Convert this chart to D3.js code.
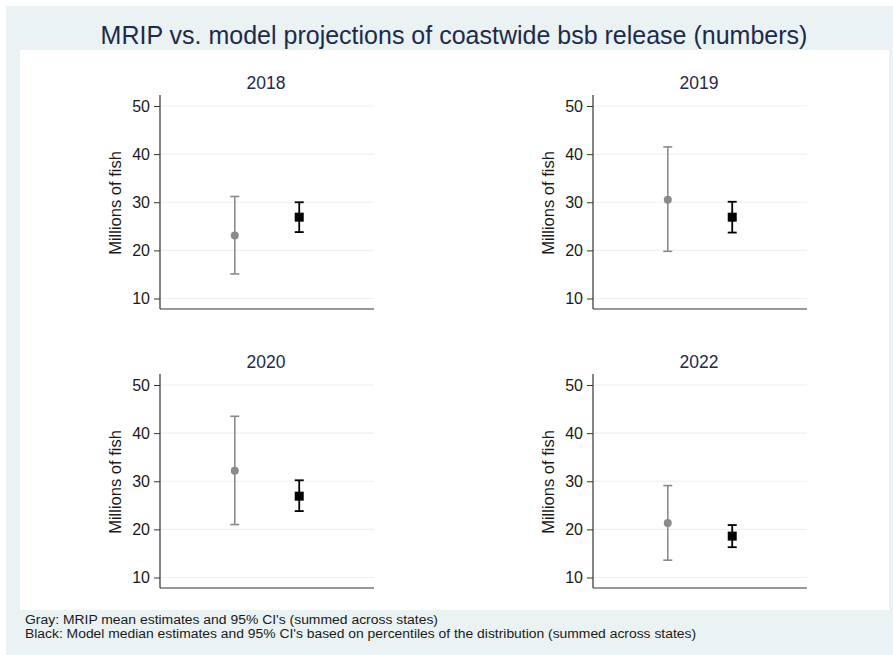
<!DOCTYPE html>
<html>
<head>
<meta charset="utf-8">
<script src="https://cdn.jsdelivr.net/npm/d3@7"></script>
<style>
  html, body { margin: 0; padding: 0; background: #ffffff; }
  svg { display: block; font-family: "Liberation Sans", Arial, sans-serif; }
</style>
</head>
<body>
<svg id="chart" width="893" height="655"></svg>
<script>
// Panel years
const years = ["2018", "2019", "2020", "2022"];
// MRIP mean estimates and 95% CI (millions of fish)
const mripMean  = [23.1, 30.5, 32.2, 21.3];
const mripLow   = [15.1, 19.8, 21.0, 13.6];
const mripHigh  = [31.2, 41.5, 43.5, 29.1];
// Model median estimates and 95% CI from percentiles
const modelMed  = [26.9, 26.9, 26.9, 18.6];
const modelLow  = [23.8, 23.7, 23.8, 16.3];
const modelHigh = [30.0, 30.1, 30.2, 20.9];
// Y axis ticks
const yTicks = [10, 20, 30, 40, 50];
const sources = ["MRIP", "Model"];

const svg = d3.select("#chart");
const W = 893, H = 655;
const bgCol = "#eaf2f3";
const textCol = "#1a1a1a";
const titleCol = "#1e2a4a";

// Outer graph region and inner plot region
svg.append("rect").attr("x", 6).attr("y", 6).attr("width", W - 6).attr("height", H - 6).attr("fill", bgCol);
svg.append("rect").attr("x", 20).attr("y", 50).attr("width", 869).attr("height", 560).attr("fill", "#ffffff");

svg.append("text")
  .attr("x", 454).attr("y", 44)
  .attr("text-anchor", "middle")
  .attr("font-size", 25)
  .attr("fill", titleCol)
  .text("MRIP vs. model projections of coastwide bsb release (numbers)");

// Panel frames: left edge of plot area (y axis), top of plot area
const colX = [160, 593];
const rowY = [95, 374];
const pw = 214, ph = 214;

years.forEach((yr, i) => {
  const x0 = colX[i % 2], y0 = rowY[Math.floor(i / 2)];
  const g = svg.append("g").attr("transform", `translate(${x0},${y0})`);

  const y = d3.scaleLinear().domain([10, 50]).range([ph - 10.5, 11]);
  const x = d3.scalePoint().domain(sources).range([0, pw]).padding(1.16);

  // horizontal gridlines
  g.selectAll("line.grid").data(yTicks).join("line")
    .attr("class", "grid")
    .attr("x1", 0).attr("x2", pw)
    .attr("y1", d => y(d)).attr("y2", d => y(d))
    .attr("stroke", bgCol).attr("stroke-width", 1.2);

  // y axis
  const yAxis = d3.axisLeft(y).tickValues(yTicks).tickSize(6).tickPadding(4);
  const ya = g.append("g").call(yAxis);
  ya.select(".domain").remove();
  ya.selectAll(".tick line").attr("stroke", "#333").attr("stroke-width", 1);
  ya.selectAll(".tick text").attr("font-size", 16).attr("fill", textCol)
    .attr("font-family", "Liberation Sans, Arial, sans-serif");
  g.append("line").attr("x1", 0).attr("x2", 0).attr("y1", 0).attr("y2", ph)
    .attr("stroke", "#333").attr("stroke-width", 1.2);
  g.append("line").attr("x1", 0).attr("x2", pw).attr("y1", ph).attr("y2", ph)
    .attr("stroke", "#333").attr("stroke-width", 1.2);

  // y axis title
  g.append("text")
    .attr("transform", `translate(-39.5,${ph / 2 + 1}) rotate(-90)`)
    .attr("text-anchor", "middle")
    .attr("font-size", 16.5)
    .attr("fill", textCol)
    .text("Millions of fish");

  // panel title
  g.append("text")
    .attr("x", pw / 2 - 1).attr("y", -6.5)
    .attr("text-anchor", "middle")
    .attr("font-size", 17.5)
    .attr("fill", titleCol)
    .text(yr);

  // MRIP: gray circle with CI
  const gx = x("MRIP");
  const gray = "#8a8a8a";
  g.append("line").attr("x1", gx).attr("x2", gx)
    .attr("y1", y(mripLow[i])).attr("y2", y(mripHigh[i]))
    .attr("stroke", gray).attr("stroke-width", 1.6);
  [mripLow[i], mripHigh[i]].forEach(v => {
    g.append("line").attr("x1", gx - 4.5).attr("x2", gx + 4.5)
      .attr("y1", y(v)).attr("y2", y(v))
      .attr("stroke", gray).attr("stroke-width", 1.6);
  });
  g.append("circle").attr("cx", gx).attr("cy", y(mripMean[i])).attr("r", 4)
    .attr("fill", gray);

  // Model: black square with CI
  const bx = x("Model");
  g.append("line").attr("x1", bx).attr("x2", bx)
    .attr("y1", y(modelLow[i])).attr("y2", y(modelHigh[i]))
    .attr("stroke", "#000").attr("stroke-width", 1.8);
  [modelLow[i], modelHigh[i]].forEach(v => {
    g.append("line").attr("x1", bx - 4.5).attr("x2", bx + 4.5)
      .attr("y1", y(v)).attr("y2", y(v))
      .attr("stroke", "#000").attr("stroke-width", 1.8);
  });
  g.append("rect").attr("x", bx - 4.5).attr("y", y(modelMed[i]) - 4.5)
    .attr("width", 9).attr("height", 9).attr("fill", "#000");
});

// footnotes
const notes = [
  "Gray: MRIP mean estimates and 95% CI's (summed across states)",
  "Black: Model median estimates and 95% CI's based on percentiles of the distribution (summed across states)"
];
const noteWidths = [413, 671];
svg.selectAll("text.note").data(notes).join("text")
  .attr("class", "note")
  .attr("x", 25).attr("y", (d, i) => 624 + i * 13.5)
  .attr("font-size", 12.3)
  .attr("textLength", (d, i) => noteWidths[i])
  .attr("lengthAdjust", "spacingAndGlyphs")
  .attr("fill", textCol)
  .text(d => d);
</script>
</body>
</html>
